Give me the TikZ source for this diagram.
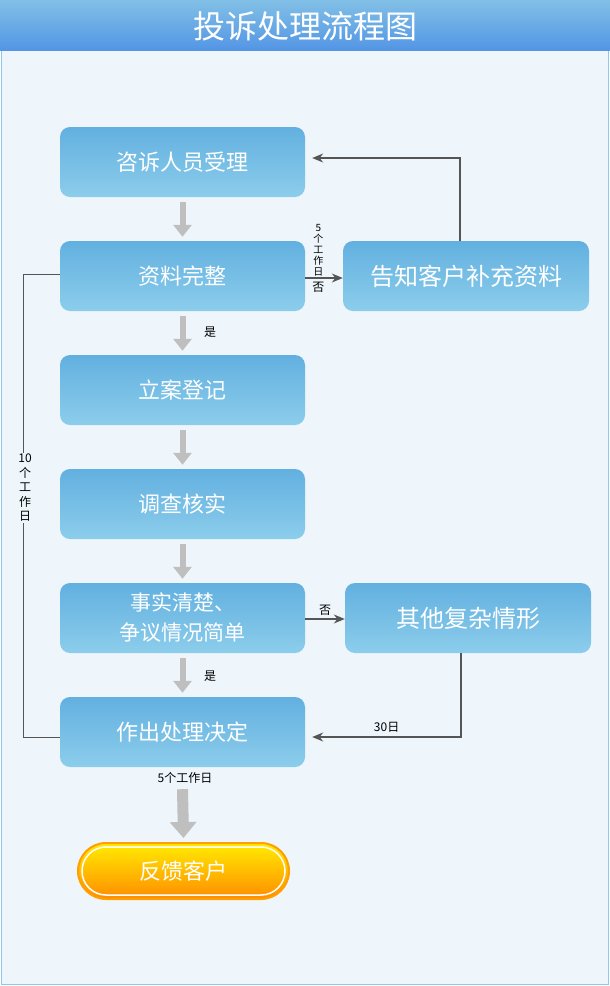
\documentclass[tikz,border=0pt]{standalone}
\usepackage{fontspec}
\setmainfont{Noto Sans CJK SC}
\usetikzlibrary{arrows.meta}
\definecolor{boxtop}{HTML}{62B0E0}
\definecolor{boxbot}{HTML}{8CCDEB}
\definecolor{framebg}{HTML}{EEF6FC}
\definecolor{linegray}{HTML}{555555}
\tikzset{
  stage/.style={rounded corners=10pt, minimum width=245pt, minimum height=70pt,
    top color=boxtop, bottom color=boxbot, draw=none, text=white,
    font=\fontsize{22}{28}\selectfont, align=center},
  flow/.style={draw=black!25, line width=6pt, -{Triangle[length=12pt,width=18pt]}},
  link/.style={draw=linegray, line width=1.2pt, -{Stealth[length=11pt,width=9pt]}},
  note/.style={font=\fontsize{12}{14}\selectfont, inner sep=1pt}
}
\begin{document}
\begin{tikzpicture}[x=1pt,y=-1pt]
  \useasboundingbox (0,0) rectangle (610,986);
  % frame and header
  \draw[fill=framebg, draw=boxtop!70, line width=1pt] (1.5,50) rectangle (608.5,984.5);
  \shade[top color=boxtop!80!white, bottom color=boxtop!85!blue] (0,0) rectangle (610,50);
  \node[text=white, font=\fontsize{32}{36}\selectfont] (title) at (305,26) {投诉处理流程图};

  % stages
  \node[stage] (accept) at (182.5,162) {咨诉人员受理};
  \node[stage] (check) at (182.5,276) {资料完整};
  \node[stage] (file) at (182.5,390) {立案登记};
  \node[stage] (survey) at (182.5,504) {调查核实};
  \node[stage, font=\fontsize{21}{30}\selectfont] (clear) at (182.5,618) {事实清楚、\\争议情况简单};
  \node[stage] (decide) at (182.5,732) {作出处理决定};
  \node[stage, minimum width=246pt, font=\fontsize{24}{28}\selectfont] (notify) at (466,276) {告知客户补充资料};
  \node[stage, minimum width=246pt, font=\fontsize{24}{28}\selectfont] (complex) at (468,618) {其他复杂情形};
  \node[rounded corners=28pt, minimum width=211pt, minimum height=56pt,
    top color=yellow!85!orange, bottom color=orange!90!yellow, draw=orange!75!yellow,
    line width=2pt, text=white, font=\fontsize{22}{28}\selectfont] (reply) at (183.5,871) {反馈客户};
  \draw[white, line width=1.5pt, rounded corners=24pt] (82,847) rectangle (285,895);

  % gray flow arrows
  \foreach \a/\b in {accept/check, check/file, file/survey, survey/clear, clear/decide}
    \draw[flow] ([yshift=-5pt]\a.south) -- ([yshift=4pt]\b.north);
  \draw[flow, line width=11pt, -{Triangle[length=16pt,width=26pt]}] ([yshift=-22pt]decide.south) -- ([yshift=4pt]reply.north);

  \node[note] (yes1) at (210,332) {是};
  \node[note] (yes2) at (210,676) {是};
  \node[note] (days5) at (185,778) {5个工作日};

  % connectors
  \draw[link] (check.east |- 0,278) -- (notify.west |- 0,278)
    node[pos=0.35, above, note, align=center, font=\fontsize{10}{11}\selectfont] {5\\个\\工\\作\\日}
    node[pos=0.35, below=2pt, note] {否};
  \draw[link] (notify.north -| 460,0) |- ([xshift=7pt]accept.east |- 0,158);
  \draw[link] (clear.east |- 0,619) -- (complex.west |- 0,619)
    node[midway, above=2pt, note] {否};
  \draw[link] (complex.south -| 461,0) |- ([xshift=7pt]decide.east |- 0,737)
    node[pos=0.75, above=3pt, note] {30日};
  \draw[draw=linegray, line width=1pt] (check.west |- 0,274) -| (23,737) -- (decide.west |- 0,737);
  \node[note, fill=framebg, align=center, font=\fontsize{12}{14.5}\selectfont] (days10) at (25,488) {10\\个\\工\\作\\日};
\end{tikzpicture}
\end{document}
